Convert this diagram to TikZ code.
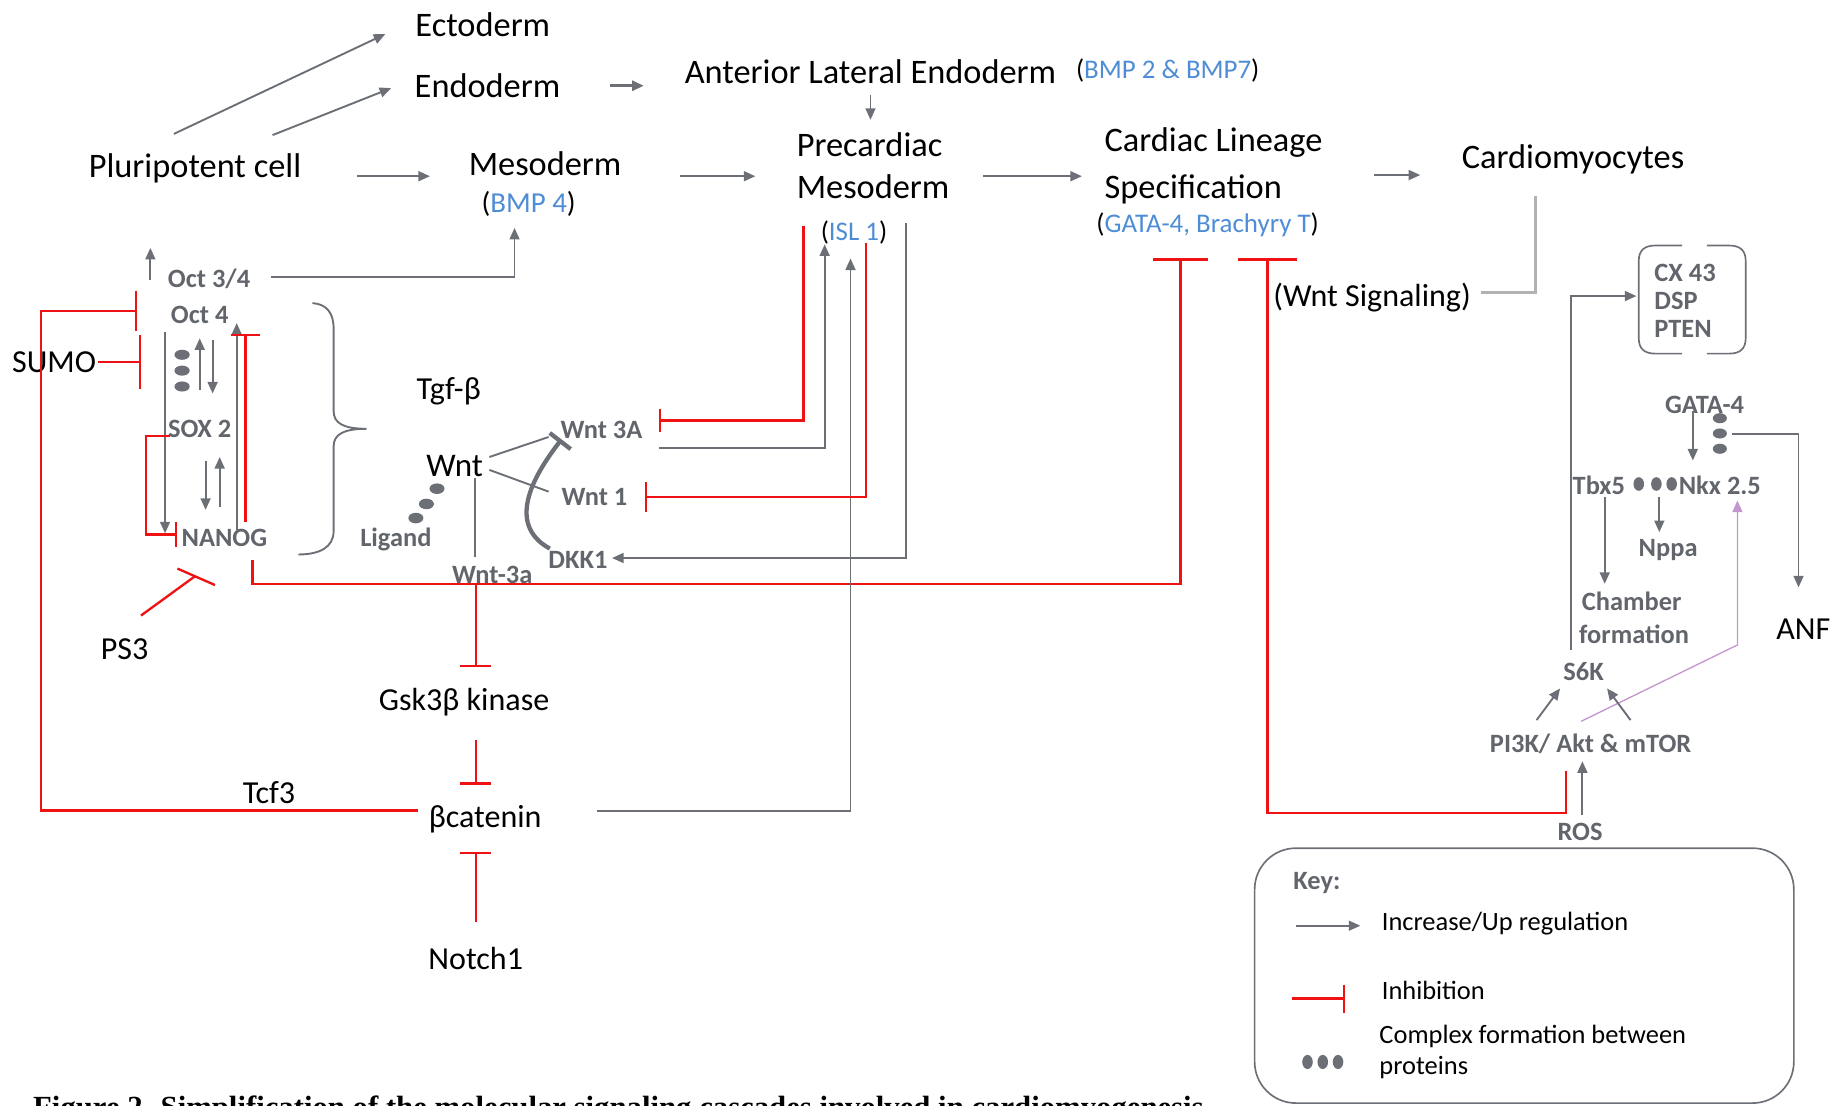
\documentclass[tikz,border=0pt]{standalone}
\usepackage{fontspec}
\setmainfont{Carlito}
\newfontfamily\capfont{Liberation Serif}
\usetikzlibrary{arrows.meta}
\definecolor{gtxt}{RGB}{98,102,108}
\definecolor{gline}{RGB}{108,112,118}
\definecolor{lgline}{RGB}{178,178,181}
\definecolor{bltxt}{RGB}{78,141,214}
\definecolor{rd}{RGB}{238,18,18}
\definecolor{vio}{RGB}{196,150,206}
\begin{document}
\begin{tikzpicture}[x=0.025cm,y=-0.025cm,
  big/.style={font=\fontsize{20.8}{25}\selectfont,inner sep=0pt},
  mid/.style={font=\fontsize{19.4}{23}\selectfont,inner sep=0pt},
  gl/.style={font=\fontsize{16}{19}\selectfont\bfseries,text=gtxt,inner sep=0pt},
  bluel/.style={font=\fontsize{16.3}{19}\selectfont,inner sep=0pt},
  keyt/.style={font=\fontsize{16}{19}\selectfont,inner sep=0pt,anchor=west},
  ga/.style={gline,line width=1.15pt,-{Triangle[length=7pt,width=6pt]}},
  gn/.style={gline,line width=1.15pt},
  inh/.style={rd,line width=1.4pt},
  ih/.style={rd,line width=1.4pt,-{Bar[width=#1]}},
  cdot/.style={fill=gline},
]
\useasboundingbox (0,0) rectangle (1568,941);
\clip (0,0) rectangle (1568,941);

% ---------- top row ----------
\node[big] (ecto) at (411,21) {Ectoderm};
\node[big] (endo) at (415,73) {Endoderm};
\node[big] (ale) at (741,61) {Anterior Lateral Endoderm};
\node[bluel] (bmp27) at (994,60) {(\textcolor{bltxt}{BMP 2 \& BMP7})};
\node[big] (pluri) at (166,143) {Pluripotent cell};
\node[big] (meso) at (464,139) {Mesoderm};
\node[bluel,font=\fontsize{17.5}{20}\selectfont] (bmp4) at (450,174) {(\textcolor{bltxt}{BMP 4})};
\node[big,anchor=west] (prec1) at (678,123) {Precardiac};
\node[big,anchor=west] (prec2) at (678,159) {Mesoderm};
\node[bluel] (isl) at (727,198) {(\textcolor{bltxt}{ISL 1})};
\node[big,anchor=west] (cls1) at (940,121) {Cardiac Lineage};
\node[big,anchor=west] (cls2) at (940,161) {Specification};
\node[bluel] (gatab) at (1028,191) {(\textcolor{bltxt}{GATA-4, Brachyry T})};
\node[big] (cardio) at (1339,136) {Cardiomyocytes};

\draw[ga] (148,114) -- (328,29);
\draw[ga] (232,115) -- (333,75);
\draw[ga,line width=1.8pt] (519,73) -- (548,73);
\draw[ga] (741,81) -- (741,102);
\draw[ga] (304,150) -- (366,150);
\draw[ga] (579,150) -- (643,150);
\draw[ga] (837,150) -- (921,150);
\draw[ga] (1170,149) -- (1209,149);

% ---------- pluripotency core ----------
\node[gl] (oct34) at (178,237) {Oct 3/4};
\node[gl] (oct4) at (170,268) {Oct 4};
\node[gl] (sox2) at (170,365) {SOX 2};
\node[gl] (nanog) at (191,458) {NANOG};
\node[mid] (sumo) at (46,308) {SUMO};
\node[mid] (ps3) at (106,553) {PS3};

\draw[ga] (128,238) -- (128,211);
\draw[ga] (231,236) -| (438,194);
\draw[ih=24pt] (356,690) -- (35,690) -- (35,265) -- (117,265);
\draw[ih=33pt] (83,308) -- (120,308);
\foreach \yy in {302,315.5,329} \fill[cdot] (155,\yy) ellipse (6.5 and 4.3);
\draw[ga] (170,332) -- (170,288);
\draw[ga] (181,289) -- (181,335);
\draw[ga] (175,392) -- (175,434);
\draw[ga] (187,432) -- (187,389);
\draw[ga] (140.5,283) -- (140.5,454);
\draw[ga] (201.5,451) -- (201.5,275);
\draw[ih=18pt] (209,444) -- (209,284);
\draw[ih=15pt] (145,371) -- (124,371) -- (124,455) -- (151,455);
\draw[gn] (266,258) .. controls (278,259) and (284,266) .. (284,280) -- (284,350)
  .. controls (284,360) and (292,365) .. (312,365)
  .. controls (292,365) and (284,370) .. (284,380) -- (284,452)
  .. controls (284,466) and (272,472) .. (254,472);
\draw[inh] (120,524) -- (166,490.5);
\draw[inh] (151,484) -- (183,498);

% ---------- Wnt region ----------
\node[mid] (tgf) at (382,333) {Tgf-β};
\node[mid,font=\fontsize{20}{23}\selectfont] (wnt) at (387,397) {Wnt};
\node[gl] (ligand) at (337,459) {Ligand};
\node[gl] (wnt3a) at (419,489) {Wnt-3a};
\node[gl] (wnt3A) at (512,366) {Wnt 3A};
\node[gl] (wnt1) at (506,423) {Wnt 1};
\node[gl] (dkk1) at (492,477) {DKK1};
\node[mid] (gsk) at (395,598) {Gsk3β kinase};
\node[mid] (bcat) at (413,697) {βcatenin};
\node[mid] (tcf3) at (229,675) {Tcf3};
\node[mid] (notch) at (405,816) {Notch1};

\draw[gn] (416.6,389) -- (467,372);
\draw[gn] (416.6,400) -- (467,418.5);
\draw[gn] (404.4,407) -- (404.4,474);
\fill[cdot] (372,416) ellipse (6.4 and 4.5);
\fill[cdot] (363,429) ellipse (6.4 and 4.5);
\fill[cdot] (354,441) ellipse (6.4 and 4.5);
\draw[gline,line width=2.6pt,-{Bar[width=16pt]}] (468,467) .. controls (428,445) and (458,400) .. (478,374);

\draw[ih=33pt] (215,477) -- (215,497) -- (1005,497) -- (1005,220);
\draw[ih=19pt] (405,497) -- (405,568);
\draw[ih=19pt] (405,630) -- (405,668);
\draw[ih=19pt] (405,785) -- (405,725);
\draw[ga] (508,690) -- (724,690) -- (724,220);
\draw[ih=14pt] (684,192) -- (684,358) -- (561,358);
\draw[ga] (561,381) -- (702,381) -- (702,208);
\draw[ih=18pt] (737,207) -- (737,423) -- (549,423);
\draw[ga] (771,190) -- (771,475) -- (521,475);
\draw[ih=36pt] (1333,656) -- (1333,692) -- (1079,692) -- (1079,220);

% ---------- right side ----------
\node[mid] (wntsig) at (1168,253) {(Wnt Signaling)};
\draw[lgline,line width=2pt] (1307,167) -- (1307,249) -- (1261,249);

\draw[gn,line width=1pt] (1432,209) -- (1409,209) .. controls (1400,209) and (1395,213) .. (1395,222) -- (1395,288)
  .. controls (1395,297) and (1400,301) .. (1409,301) -- (1432,301);
\draw[gn,line width=1pt] (1453,209) -- (1472,209) .. controls (1481,209) and (1486,213) .. (1486,222) -- (1486,288)
  .. controls (1486,297) and (1481,301) .. (1472,301) -- (1453,301);
\node[gl,anchor=west] (cx) at (1408,232) {CX 43};
\node[gl,anchor=west] (dsp) at (1408,256) {DSP};
\node[gl,anchor=west] (pten) at (1408,280) {PTEN};

\node[gl] (gata4) at (1451,345) {GATA-4};
\node[gl] (tbx5) at (1361,413) {Tbx5};
\node[gl] (nkx) at (1464,413) {Nkx 2.5};
\node[gl] (nppa) at (1420,468) {Nppa};
\node[gl] (chamber) at (1389,512) {Chamber};
\node[gl] (formation) at (1391,540) {formation};
\node[mid] (anf) at (1535,536) {ANF};
\node[gl] (s6k) at (1348,572) {S6K};
\node[gl] (pi3k) at (1354,633) {PI3K/ Akt \& mTOR};
\node[gl] (ros) at (1345,708) {ROS};

\draw[ga] (1337,553) -- (1337,252) -- (1393,252);
\draw[ga] (1441,350) -- (1441,392);
\foreach \yy in {356,369,382} \fill[cdot] (1464,\yy) ellipse (6 and 4.3);
\draw[ga] (1474,369.5) -- (1531,369.5) -- (1531,500);
\foreach \xx in {1395,1410,1423} \fill[cdot] (\xx,412) ellipse (4.5 and 5.8);
\draw[ga] (1366,423) -- (1366,497);
\draw[ga] (1412.5,423) -- (1412.5,453);
\draw[vio,line width=0.8pt,-{Triangle[length=7pt,width=6pt]}] (1346,614) -- (1479,549) -- (1479,426);
\draw[ga] (1308,613) -- (1328,586);
\draw[ga] (1388,613) -- (1368,586);
\draw[ga] (1347,694) -- (1347,648);

% ---------- key ----------
\draw[gn,line width=1pt,rounded corners=25pt] (1068,722) rectangle (1527,939);
\node[gl] (key) at (1121,752) {Key:};
\draw[ga] (1103,788) -- (1158,788);
\node[keyt] (k1) at (1176,786) {Increase/Up regulation};
\draw[ih=17pt] (1100,850) -- (1145,850);
\node[keyt] (k2) at (1176,843) {Inhibition};
\foreach \xx in {1113,1126,1139} \fill[cdot] (\xx,904) ellipse (4.5 and 6);
\node[keyt] (k3) at (1174,882) {Complex formation between};
\node[keyt] (k4) at (1174,909) {proteins};

% ---------- caption (cut by page edge, as in the reference) ----------
\node[anchor=base west,inner sep=0pt,font=\capfont\bfseries\fontsize{18.6}{21}\selectfont] (cap) at (28,951)
  {Figure 2. Simplification of the molecular signaling cascades involved in cardiomyogenesis};
\end{tikzpicture}
\end{document}
